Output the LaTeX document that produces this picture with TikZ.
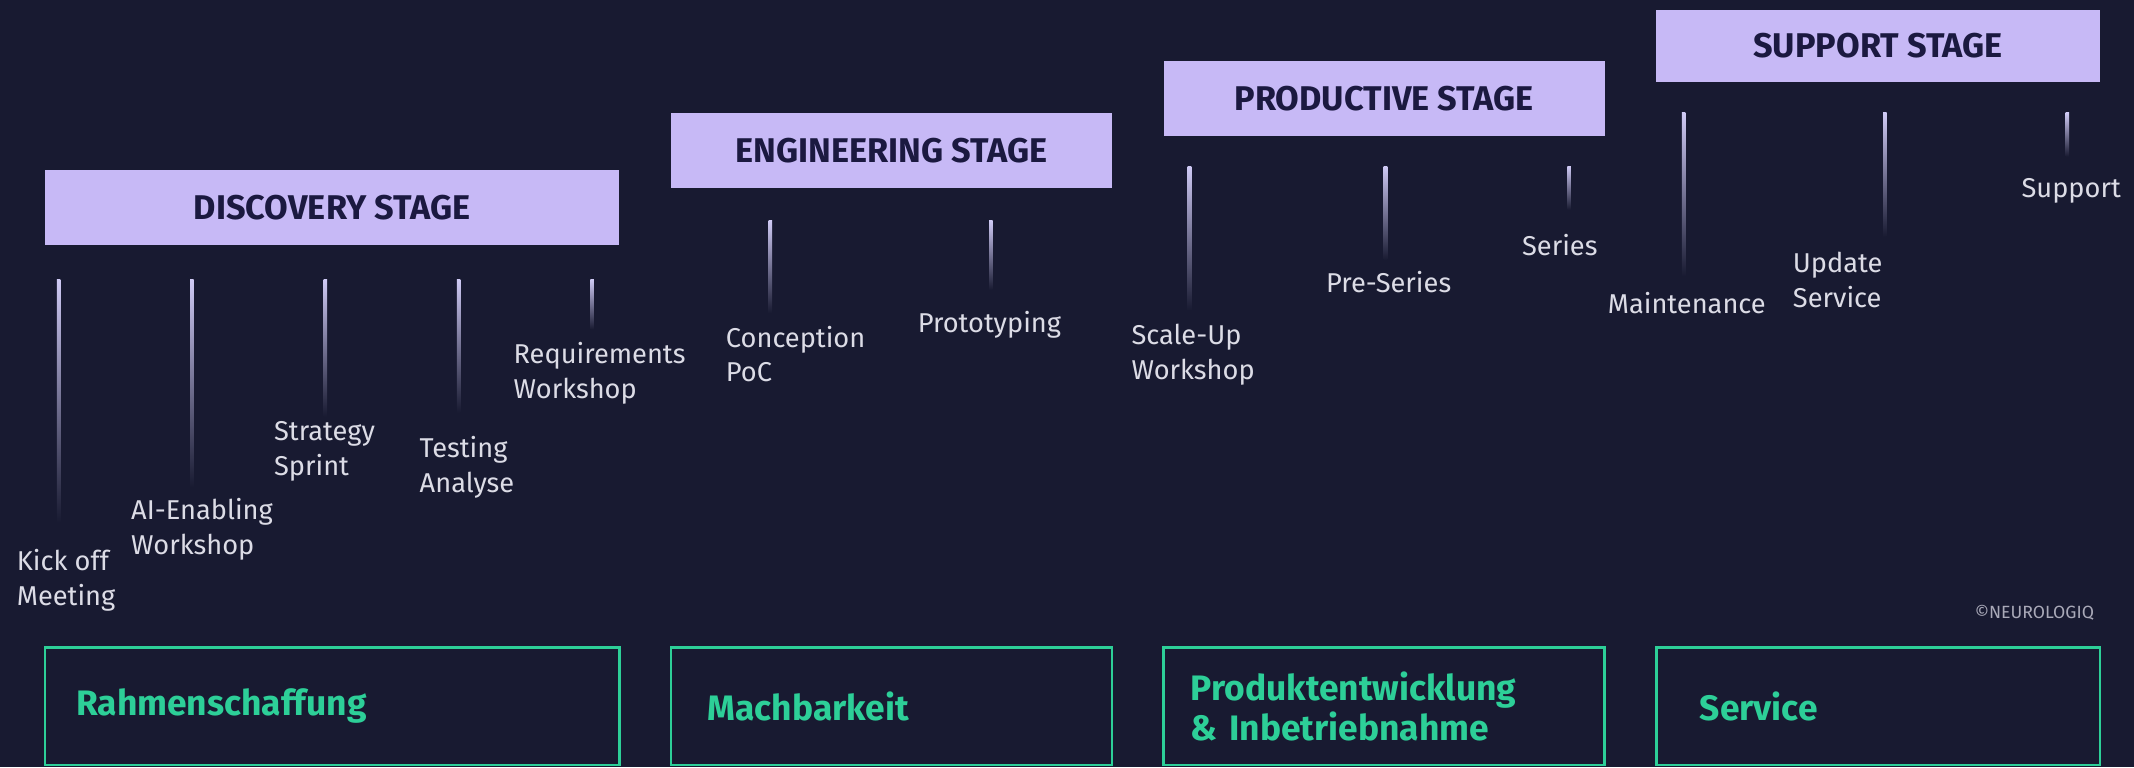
\documentclass[tikz,border=0pt]{standalone}
\usepackage{fontspec}
\setmainfont{Fira Sans}
\usetikzlibrary{positioning}

\definecolor{bgnavy}{HTML}{181A31}
\definecolor{lavender}{HTML}{C7B9F6}
\definecolor{stageink}{HTML}{1B1940}
\definecolor{mint}{HTML}{2DCF98}
\definecolor{labelgray}{HTML}{DCDCE6}
\definecolor{tickcol}{HTML}{CFCAF5}
\definecolor{copygray}{HTML}{A9A9B8}

\begin{document}
\begin{tikzpicture}[x=0.5pt, y=-0.5pt,
    stage/.style = {anchor=north west, rectangle, fill=lavender,% stage headers on top
                    minimum height=27.5pt, inner sep=0pt, outer sep=0pt,
                    font=\fontsize{12.6}{14}\selectfont\bfseries, text=stageink},
    phase/.style = {anchor=north west, rectangle, draw=mint, line width=1pt,% boxes at the bottom
                    minimum height=43pt, inner xsep=11.5pt, inner ysep=0pt, outer sep=0pt,
                    align=left, font=\fontsize{13}{14.5}\selectfont\bfseries, text=mint},
    lbl/.style   = {anchor=north west, inner sep=0pt, align=left, text=labelgray,
                    font=\fontsize{10}{12.8}\selectfont},
    tick/.style  = {top color=tickcol, middle color=tickcol!70!bgnavy, bottom color=bgnavy},
                    ]
\fill[bgnavy] (0,0) rectangle (1568,563.6);
% stages
\node[stage, minimum width=211pt] (discovery)   at (33,125)  {DISCOVERY STAGE};
\node[stage, minimum width=162pt] (engineering) at (493,83)  {ENGINEERING STAGE};
\node[stage, minimum width=162pt] (productive)  at (855,45)  {PRODUCTIVE STAGE};
\node[stage, minimum width=163pt, minimum height=26.5pt] (supportstage) at (1217,7) {SUPPORT STAGE};
% steps below each stage
\foreach \x/\yb/\lx/\ly/\n/\t in {43/384/12/403/kickoff/{Kick off\\Meeting},
        141/358/96/366/aienabling/{AI-Enabling\\Workshop},
        239/306/201/309/strategy/{Strategy\\Sprint},
        337/303/308/320/testing/{Testing\\Analyse},
        435/242/377/251/requirements/{Requirements\\Workshop}}
{
    \shade[tick] (\x-1.3,205) rectangle (\x+1.3,\yb);
    \node[lbl] (\n) at (\lx,\ly) {\t};
}
\foreach \x/\yb/\lx/\ly/\n/\t in {566/230/533/239/conception/{Conception\\PoC},
        728/213/674/228/prototyping/{Prototyping}}
{
    \shade[tick] (\x-1.3,162) rectangle (\x+1.3,\yb);
    \node[lbl] (\n) at (\lx,\ly) {\t};
}
\foreach \x/\yb/\lx/\ly/\n/\t in {874/228/831/238/scaleup/{Scale-Up\\Workshop},
        1018/191/974/199/preseries/{Pre-Series},
        1153/154/1118/172/series/{Series}}
{
    \shade[tick] (\x-1.3,122) rectangle (\x+1.3,\yb);
    \node[lbl] (\n) at (\lx,\ly) {\t};
}
\foreach \x/\yb/\lx/\ly/\n/\t in {1237/203/1181/214/maintenance/{Maintenance},
        1385/174/1317/185/update/{Update\\Service},
        1519/115/1485/131/support/{Support}}
{
    \shade[tick] (\x-1.3,83) rectangle (\x+1.3,\yb);
    \node[lbl] (\n) at (\lx,\ly) {\t};
}
\node[anchor=east, inner sep=0pt, text=copygray, font=\fontsize{6.5}{8}\selectfont]
    (copyright) at (1539,450) {©NEUROLOGIQ};
% phases
\node[phase, text width=188pt] (rahmen) at (33,476) {Rahmenschaffung};
\node[phase, inner xsep=13.5pt, text width=135pt] (machbar) at (493,476) {Machbarkeit};
\node[phase, inner xsep=10pt, text width=142pt] (produkt) at (855,476) {Produktentwicklung\\\& Inbetriebnahme};
\node[phase, inner xsep=16pt, text width=131pt] (service) at (1217,476) {Service};
\end{tikzpicture}
\end{document}
